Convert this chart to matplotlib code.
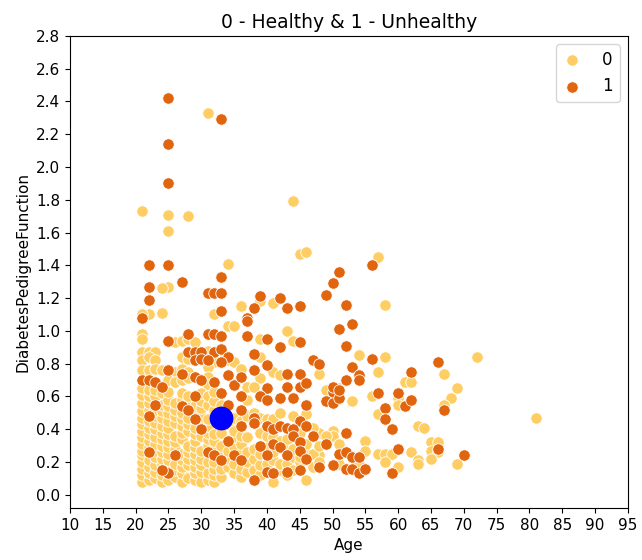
import numpy as np
import matplotlib.pyplot as plt
import seaborn as sns

# Outcome = 1 (unhealthy)
age_1 = [25, 33, 25, 25, 22, 25, 33, 27, 22, 22, 31, 32, 33, 39, 42, 43, 45, 38, 33, 37,
         21, 49, 50, 51, 56, 52, 51, 53, 52, 56, 66, 53, 62, 54, 54, 52, 67, 50, 49, 50,
         51, 57, 60, 61, 62, 58, 58, 59, 52, 49, 60, 66, 59, 70, 51, 52, 53, 54, 50, 52,
         53, 54, 55, 50, 51,
         37, 45, 25, 28, 31, 32, 33, 37, 28, 29, 30, 32, 33, 34, 38, 40, 47, 48, 29, 30,
         31, 33, 25, 27, 34, 38, 43, 45, 21, 22, 23, 24, 29, 30, 32, 35, 36, 40, 43, 45,
         46, 23, 29, 33, 36, 39, 40, 42, 44, 46, 27, 28, 34, 36, 38, 45, 22, 29, 30, 36,
         38, 40, 41, 42, 43, 44, 46, 47, 34, 39, 41, 42, 44, 45, 22, 26, 31, 32, 33, 35,
         36, 40, 43, 45, 46, 25, 24, 38, 40, 41, 43, 45, 48, 40, 42]
dpf_1 = [2.42, 2.29, 2.14, 1.90, 1.40, 1.40, 1.33, 1.30, 1.27, 1.19, 1.23, 1.23, 1.23, 1.21, 1.20, 1.14, 1.15, 1.14, 1.12, 1.08,
         1.08, 1.22, 1.29, 1.36, 1.40, 1.16, 1.01, 1.04, 0.91, 0.83, 0.81, 0.78, 0.75, 0.73, 0.70, 0.70, 0.52, 0.63, 0.57, 0.56,
         0.59, 0.62, 0.62, 0.54, 0.58, 0.53, 0.46, 0.40, 0.38, 0.31, 0.28, 0.28, 0.13, 0.24, 0.25, 0.26, 0.23, 0.23, 0.18, 0.16,
         0.16, 0.13, 0.16, 0.66, 0.64,
         1.06, 0.93, 0.94, 0.98, 0.98, 0.98, 0.97, 0.97, 0.87, 0.87, 0.87, 0.87, 0.89, 0.84, 0.86, 0.79, 0.82, 0.80, 0.82, 0.83,
         0.82, 0.81, 0.76, 0.74, 0.73, 0.76, 0.74, 0.74, 0.70, 0.70, 0.69, 0.66, 0.72, 0.70, 0.69, 0.67, 0.72, 0.65, 0.66, 0.66,
         0.68, 0.55, 0.60, 0.62, 0.60, 0.60, 0.58, 0.59, 0.59, 0.55, 0.54, 0.52, 0.55, 0.52, 0.47, 0.45, 0.48, 0.46, 0.40, 0.42,
         0.44, 0.42, 0.40, 0.42, 0.41, 0.40, 0.42, 0.36, 0.33, 0.30, 0.31, 0.29, 0.36, 0.32, 0.26, 0.24, 0.26, 0.24, 0.21, 0.24,
         0.21, 0.24, 0.24, 0.27, 0.22, 0.13, 0.15, 0.09, 0.14, 0.13, 0.14, 0.15, 0.17, 0.95, 0.90]

# Outcome = 0 (healthy)
age_0 = [31, 21, 25, 28, 25, 44, 45, 46, 34, 25, 24, 39, 41, 36, 32, 22, 24, 57, 58, 54,
         58, 72, 67, 57, 61, 62, 69, 68, 67, 49, 51, 53, 56, 60, 60, 57, 63, 64, 81, 48,
         50, 50, 51, 55, 55, 62, 65, 65, 66, 66, 65, 63, 63, 57, 58, 59, 58, 60, 69, 54,
         51, 48, 48, 49, 21, 34, 35, 43, 44, 21, 21, 39,
         26, 27, 28, 29, 21, 22, 23, 31, 34, 35, 39, 21, 22, 23, 27, 28, 32, 21, 22, 23,
         24, 26, 27, 28, 31, 31, 36, 39, 41, 42, 48, 25, 26, 27, 28, 31, 37, 38,
         21, 21, 21, 21, 21, 21, 21, 21, 21, 21, 21, 21, 21, 21, 21,
         22, 22, 22, 22, 22, 22, 22, 22, 22, 22, 22, 22, 22,
         23, 23, 23, 23, 23, 23, 23, 23, 23, 23, 23, 23, 23,
         24, 24, 24, 24, 24, 24, 24, 24, 24, 24, 24, 24, 24,
         25, 25, 25, 25, 25, 25, 25, 25, 25, 25, 25, 25, 25,
         26, 26, 26, 26, 26, 26, 26, 26, 26, 26,
         27, 27, 27, 27, 27, 27, 27, 27, 27, 27, 27, 27,
         28, 28, 28, 28, 28, 28, 28, 28, 28, 28,
         29, 29, 29, 29, 29, 29, 29, 29, 29, 29, 29,
         30, 30, 30, 30, 30, 30, 30, 30, 30, 30, 30,
         31, 31, 31, 31, 31, 31, 31, 31, 31, 31,
         32, 32, 32, 32, 32, 32, 32, 32, 32, 32,
         33, 33, 33, 33, 33, 33,
         34, 34, 34, 34, 34,
         35, 35, 35, 35, 35, 35,
         36, 36, 36, 36, 36, 36,
         37, 37, 37, 37, 37, 37,
         38, 38, 38, 38,
         39, 39, 39, 39, 39,
         40, 40, 40, 40,
         41, 41, 41, 41, 41,
         42, 42, 42, 42,
         43, 43, 43, 43,
         44, 44, 44, 44,
         45, 45, 45,
         46, 46, 46, 46,
         47, 47, 47,
         48, 48]
dpf_0 = [2.33, 1.73, 1.71, 1.70, 1.61, 1.79, 1.47, 1.48, 1.41, 1.27, 1.26, 1.18, 1.17, 1.15, 1.10, 1.10, 1.11, 1.45, 1.16, 0.85,
         0.84, 0.84, 0.74, 0.75, 0.69, 0.69, 0.65, 0.59, 0.55, 0.64, 0.65, 0.57, 0.60, 0.59, 0.55, 0.49, 0.42, 0.41, 0.47, 0.38,
         0.39, 0.36, 0.31, 0.33, 0.27, 0.26, 0.32, 0.27, 0.32, 0.26, 0.22, 0.21, 0.19, 0.25, 0.25, 0.25, 0.20, 0.17, 0.19, 0.19,
         0.19, 0.24, 0.17, 0.36, 1.10, 1.03, 1.03, 1.00, 0.94, 0.98, 0.95, 0.95,
         0.93, 0.94, 0.95, 0.93, 0.87, 0.87, 0.87, 0.88, 0.82, 0.81, 0.84, 0.82, 0.84, 0.82, 0.84, 0.83, 0.81, 0.76, 0.76, 0.77,
         0.76, 0.75, 0.77, 0.75, 0.78, 0.72, 0.77, 0.71, 0.75, 0.73, 0.74, 0.70, 0.69, 0.70, 0.71, 0.67, 0.66, 0.66,
         0.08, 0.12, 0.16, 0.20, 0.24, 0.27, 0.31, 0.35, 0.39, 0.43, 0.47, 0.51, 0.56, 0.61, 0.65,
         0.09, 0.13, 0.17, 0.21, 0.29, 0.33, 0.37, 0.41, 0.45, 0.52, 0.56, 0.60, 0.64,
         0.10, 0.14, 0.18, 0.23, 0.27, 0.31, 0.35, 0.40, 0.44, 0.48, 0.52, 0.60, 0.64,
         0.08, 0.12, 0.19, 0.22, 0.26, 0.30, 0.34, 0.38, 0.42, 0.47, 0.51, 0.55, 0.62,
         0.09, 0.17, 0.21, 0.25, 0.29, 0.33, 0.37, 0.41, 0.45, 0.50, 0.54, 0.58, 0.63,
         0.11, 0.15, 0.19, 0.28, 0.32, 0.36, 0.44, 0.48, 0.52, 0.56,
         0.08, 0.13, 0.17, 0.21, 0.25, 0.34, 0.38, 0.42, 0.46, 0.50, 0.58, 0.62,
         0.10, 0.18, 0.22, 0.26, 0.30, 0.39, 0.43, 0.47, 0.56, 0.60,
         0.09, 0.13, 0.17, 0.21, 0.25, 0.29, 0.33, 0.37, 0.41, 0.50, 0.54,
         0.08, 0.14, 0.18, 0.22, 0.27, 0.36, 0.44, 0.48, 0.53, 0.57, 0.62,
         0.09, 0.13, 0.20, 0.30, 0.34, 0.38, 0.42, 0.46, 0.55, 0.60,
         0.08, 0.12, 0.16, 0.20, 0.28, 0.33, 0.37, 0.52, 0.57, 0.63,
         0.11, 0.16, 0.26, 0.30, 0.38, 0.55,
         0.17, 0.22, 0.27, 0.43, 0.48,
         0.13, 0.19, 0.29, 0.35, 0.39, 0.47,
         0.11, 0.16, 0.25, 0.31, 0.36, 0.45,
         0.14, 0.20, 0.26, 0.35, 0.48, 0.58,
         0.15, 0.22, 0.28, 0.50,
         0.12, 0.18, 0.25, 0.47, 0.38,
         0.19, 0.29, 0.36, 0.46,
         0.08, 0.21, 0.26, 0.35, 0.46,
         0.15, 0.19, 0.33, 0.50,
         0.12, 0.19, 0.30, 0.34,
         0.15, 0.23, 0.28, 0.48,
         0.20, 0.23, 0.38,
         0.09, 0.27, 0.31, 0.49,
         0.17, 0.25, 0.41,
         0.20, 0.30]

# the highlighted patient
new_age = [33]
new_dpf = [0.47]

pal = sns.color_palette('YlOrBr', 2)

fig = plt.figure(figsize=(6.42, 5.6), dpi=100)
ax = fig.add_axes([0.109, 0.093, 0.869, 0.843])

ax.scatter(age_0, dpf_0, s=68, color=pal[0], edgecolor='white', linewidth=0.6, label='0')
ax.scatter(age_1, dpf_1, s=68, color=pal[1], edgecolor='white', linewidth=0.6, label='1')
ax.scatter(new_age, new_dpf, s=260, color='blue')

ax.set_xlim(10, 95)
ax.set_ylim(-0.08, 2.8)
ax.set_xticks(np.arange(10, 96, 5))
ax.set_yticks(np.arange(0, 2.81, 0.2))
ax.tick_params(labelsize=11)
ax.set_xlabel('Age', fontsize=11)
ax.set_ylabel('DiabetesPedigreeFunction', fontsize=11)
ax.set_title('0 - Healthy & 1 - Unhealthy', fontsize=13.5)
ax.legend(loc='upper right', fontsize=12, handlelength=1.2, handletextpad=1.2)

plt.savefig('out.png')
